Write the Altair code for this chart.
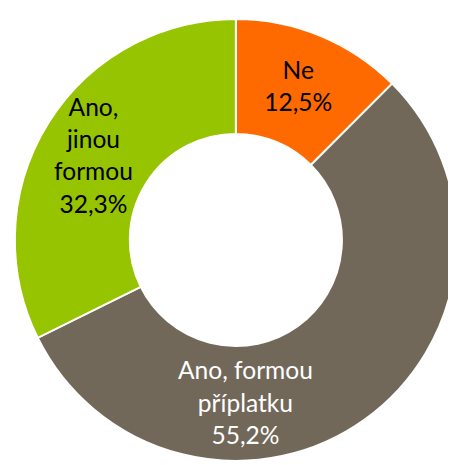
import altair as alt
import pandas as pd

categories = ["Ne", "Ano, formou příplatku", "Ano, jinou formou"]
values = [12.5, 55.2, 32.3]
labels = ["Ne\n12,5%", "Ano, formou\npříplatku\n55,2%", "Ano,\njinou\nformou\n32,3%"]
order = [1, 2, 3]
colors = ["#FF6A00", "#72685A", "#96C400"]

df = pd.DataFrame({"cat": categories, "value": values, "label": labels, "ord": order})

color_scale = alt.Scale(domain=categories, range=colors)
CENTER_X = 224
CENTER_Y = 232

base = alt.Chart(df)

arc = base.mark_arc(outerRadius=225, innerRadius=108, stroke="white", strokeWidth=2).encode(
    theta=alt.Theta("value:Q", stack=True),
    order=alt.Order("ord:Q"),
    color=alt.Color("cat:N", scale=color_scale, legend=None),
    x=alt.value(CENTER_X),
    y=alt.value(CENTER_Y),
)

text_base = base.transform_window(
    cum="sum(value)", sort=[alt.SortField("ord")]
).transform_calculate(mid="datum.cum - datum.value / 2")


def label_layer(cat, color, dx, dy):
    return text_base.transform_filter(alt.datum.cat == cat).mark_text(
        radius=166, align="center", baseline="middle", lineBreak="\n",
        font="Lato", fontSize=25, lineHeight=33, color=color, dx=dx, dy=dy,
    ).encode(
        theta=alt.Theta("mid:Q", stack=None, scale=alt.Scale(domain=[0, 100])),
        text="label:N",
        x=alt.value(CENTER_X),
        y=alt.value(CENTER_Y),
    )


chart = alt.layer(
    arc,
    label_layer("Ne", "black", 0, -19),
    label_layer("Ano, formou příplatku", "white", -87, -1),
    label_layer("Ano, jinou formou", "black", -4, -47),
).resolve_scale(theta="independent").properties(
    width=440, height=457,
    padding={"left": 8, "top": 0, "right": 0, "bottom": 0},
    autosize="none",
).configure_view(stroke=None)

chart.save("out.html", embed_options={"renderer": "svg", "actions": False})
